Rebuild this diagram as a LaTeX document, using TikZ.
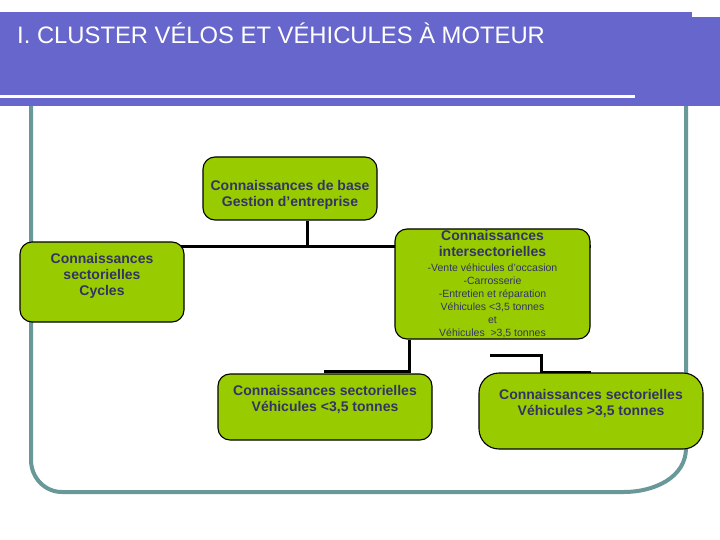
\documentclass[tikz,border=0pt]{standalone}
\usepackage{fontspec}
\setmainfont{Liberation Sans}
\usetikzlibrary{backgrounds}
\definecolor{headblue}{RGB}{102,102,204}
\definecolor{frameteal}{RGB}{104,152,152}
\definecolor{leaf}{RGB}{153,204,0}
\definecolor{ink}{RGB}{51,51,102}
\newcommand\boldline[1]{{\fontsize{14}{16}\selectfont\bfseries #1}}

\begin{document}
\begin{tikzpicture}[x=1pt,y=-1pt,
  greenbox/.style={draw=black,line width=1.1pt,fill=leaf,rounded corners=12pt,
    align=center,text=ink,font=\fontsize{14}{16}\selectfont\bfseries},
  conn/.style={draw=black,line width=3pt}]
\useasboundingbox (0,0) rectangle (720,540);
% header band
\fill[headblue] (0,12) rectangle (692,95);
\fill[headblue] (692,17) rectangle (720,106);
\fill[headblue] (0,98) rectangle (720,106);
\fill[headblue] (635,95) rectangle (720,98);
\node[anchor=west,text=white,font=\fontsize{23.8}{28}\selectfont,inner sep=0pt] (title) at (17,33)
  {I. CLUSTER VÉLOS ET VÉHICULES À MOTEUR};
% boxes
\node[greenbox,minimum width=174,minimum height=63,text height=38pt] (base) at (290,188.5)
  {Connaissances de base\\Gestion d’entreprise};
\node[greenbox,minimum width=164,minimum height=80,text depth=15pt] (cycles) at (102,282)
  {Connaissances\\sectorielles\\Cycles};
\node[greenbox,minimum width=195,minimum height=110,inner sep=0pt,
  font=\fontsize{10.5}{13}\selectfont] (inter) at (492.5,284)
  {\boldline{Connaissances}\\[3pt]\boldline{intersectorielles}\\[2pt]
   -Vente véhicules d'occasion\\-Carrosserie\\-Entretien et réparation\\
   Véhicules <3,5 tonnes\\et\\Véhicules \ >3,5 tonnes};
\node[greenbox,minimum width=214,minimum height=66,text depth=17pt] (light) at (325,407)
  {Connaissances sectorielles\\Véhicules <3,5 tonnes};
\node[greenbox,rounded corners=20pt,minimum width=224,minimum height=76,text depth=17pt] (heavy) at (591,411)
  {Connaissances sectorielles\\Véhicules >3,5 tonnes};
\coordinate (hub) at (307,246);
\coordinate (drop) at (409,371);
\coordinate (split) at (490,355);
\coordinate (bend) at (541,355);
\begin{scope}[on background layer]
% frame
\draw[frameteal,line width=4pt] (31,106) -- (31,460)
  to[out=-90,in=180] (62,492) -- (624,492) to[out=0,in=-90] (686,448) -- (686,106);
% connectors
\draw[conn] (base.south -| hub) -- (hub);
\draw[conn] (hub -| cycles.center) -- (hub -| inter.east);
\draw[conn] (inter.south -| drop) -- (drop) -| (light.north);
\draw[conn] (split) -- (bend) |- (heavy.north);
\end{scope}
\end{tikzpicture}
\end{document}
